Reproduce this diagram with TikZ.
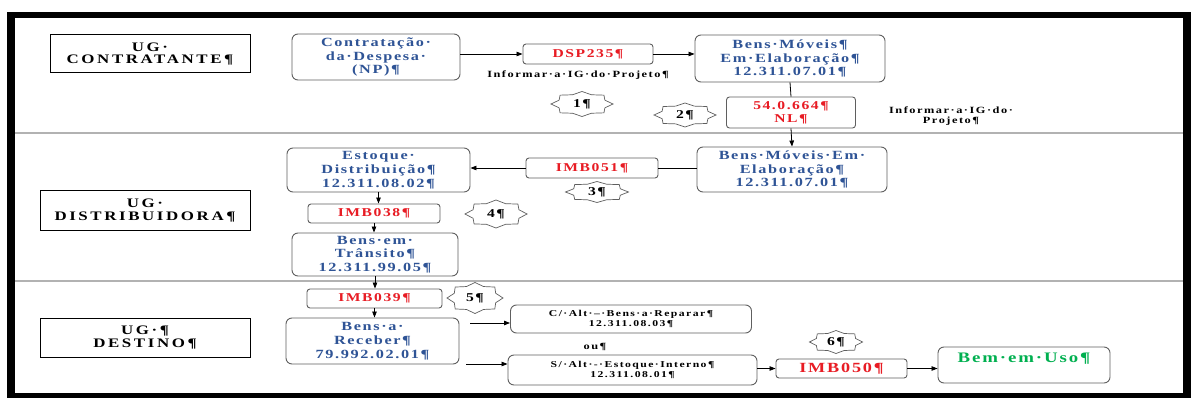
\documentclass[tikz,border=0pt]{standalone}
\usepackage{fontspec}
\setmainfont{Liberation Serif}[FakeStretch=1.3,LetterSpace=13]
\newfontfamily\widefont{Liberation Serif}[FakeStretch=1.3,LetterSpace=20]
\newfontfamily\notefont{Liberation Serif}[FakeStretch=1.3,LetterSpace=16]
\usetikzlibrary{arrows.meta,calc}

\definecolor{acctblue}{RGB}{47,84,150}
\definecolor{docred}{RGB}{232,28,36}
\definecolor{usegreen}{RGB}{0,176,80}
\definecolor{boxgray}{RGB}{95,95,95}
\definecolor{lanegray}{RGB}{178,178,178}

\tikzset{
  ugbox/.style={draw=black, line width=1pt, inner sep=0pt, align=center,
    font=\widefont\bfseries\fontsize{13}{12.5}\selectfont},
  acct/.style={draw=boxgray, line width=0.9pt, rounded corners=6pt, inner sep=0pt,
    align=center, text=acctblue, font=\bfseries\fontsize{12.5}{13.8}\selectfont},
  doc/.style={draw=boxgray, line width=0.9pt, rounded corners=3pt, inner sep=0pt,
    align=center, text=docred, font=\bfseries\fontsize{12}{13}\selectfont},
  small/.style={inner sep=0pt, align=center, font=\notefont\bfseries\fontsize{9.5}{10.5}\selectfont},
  sealtext/.style={inner sep=0pt, font=\bfseries\fontsize{12}{12}\selectfont},
  sealline/.style={draw=boxgray, line width=0.7pt},
  flow/.style={line width=0.8pt, -{Triangle[length=6pt,width=4.5pt]}},
  link/.style={line width=0.8pt},
  laneline/.style={draw=lanegray, line width=1.5pt}
}

% star outline round a named node: name, half width, half height
\newcommand{\sealframe}[3]{%
  \draw[sealline, shift={(#1.center)}] plot[samples at={0,22.5,...,337.5}]
    ({#2*cos(\x)*(1-0.2*mod(round(\x/22.5),2))},{#3*sin(\x)*(1-0.2*mod(round(\x/22.5),2))}) -- cycle;}

\begin{document}
\begin{tikzpicture}[x=1pt,y=-1pt]
\useasboundingbox (0,0) rectangle (1191,398);

%Frame
\fill[black] (7,12) rectangle (1191,398);
\fill[white] (15,18) rectangle (1183,393);

%Lanes
\draw[laneline] (15,133) -- (1183,133);
\draw[laneline] (15,281) -- (1183,281);

%Lane titles
\node[ugbox, minimum width=200pt, minimum height=38pt] (ugA) at (150,54) {UG·\\CONTRATANTE¶};
\node[ugbox, minimum width=210pt, minimum height=39pt] (ugB) at (145,210.5) {UG·\\DISTRIBUIDORA¶};
\node[ugbox, minimum width=210pt, minimum height=39pt] (ugC) at (145,337.5) {UG·¶\\DESTINO¶};

%UG contratante
\node[acct, minimum width=168pt, minimum height=46pt] (contr) at (376,57) {Contratação·\\da·Despesa·\\(NP)¶};
\node[doc, minimum width=130pt, minimum height=20pt] (dsp) at (588,54) {DSP235¶};
\node[small] (info1) at (578,75) {Informar·a·IG·do·Projeto¶};
\node[acct, minimum width=190pt, minimum height=47pt] (bensA) at (790,58.5) {Bens·Móveis¶\\Em·Elaboração¶\\12.311.07.01¶};
\node[doc, minimum width=129pt, minimum height=31pt] (nl) at (791,112.5) {54.0.664¶\\NL¶};
\node[small] (info2) at (951,116) {Informar·a·IG·do·\\Projeto¶};
\node[sealtext] (s1) at (582,104) {1¶};
\sealframe{s1}{31}{12.5}
\node[sealtext] (s2) at (685,115) {2¶};
\sealframe{s2}{31}{12}

%UG distribuidora
\node[acct, minimum width=190pt, minimum height=45pt] (bensB) at (792,169.5) {Bens·Móveis·Em·\\Elaboração¶\\12.311.07.01¶};
\node[doc, minimum width=132pt, minimum height=20pt] (imb051) at (592,168) {IMB051¶};
\node[acct, minimum width=183pt, minimum height=44pt] (estoque) at (378.5,170) {Estoque·\\Distribuição¶\\12.311.08.02¶};
\node[doc, minimum width=132pt, minimum height=19pt] (imb038) at (374,213.5) {IMB038¶};
\node[acct, minimum width=166pt, minimum height=43pt] (transito) at (375,254.5) {Bens·em·\\Trânsito¶\\12.311.99.05¶};
\node[sealtext] (s3) at (597,192) {3¶};
\sealframe{s3}{31.5}{10.5}
\node[sealtext] (s4) at (496,214) {4¶};
\sealframe{s4}{31}{14}

%UG destino
\node[doc, minimum width=135pt, minimum height=19pt] (imb039) at (374.5,298.5) {IMB039¶};
\node[acct, minimum width=173pt, minimum height=46pt] (receber) at (372.5,341) {Bens·a·\\Receber¶\\79.992.02.01¶};
\node[sealtext] (s5) at (475,298) {5¶};
\sealframe{s5}{28}{15.5}
\node[acct, text=black, minimum width=241pt, minimum height=28pt, font=\notefont\bfseries\fontsize{9}{10}\selectfont] (calt) at (631,319) {C/·Alt·–·Bens·a·Reparar¶\\12.311.08.03¶};
\node[small] (ou) at (595,347) {ou¶};
\node[acct, text=black, minimum width=249pt, minimum height=30pt, font=\notefont\bfseries\fontsize{9}{10}\selectfont] (salt) at (632.5,370) {S/·Alt·-·Estoque·Interno¶\\12.311.08.01¶};
\node[doc, minimum width=131pt, minimum height=19pt, font=\bfseries\fontsize{14}{15}\selectfont] (imb050) at (841.5,368.5) {IMB050¶};
\node[sealtext] (s6) at (836,342) {6¶};
\sealframe{s6}{26.5}{11.5}
\node[acct, text=usegreen, minimum width=172pt, minimum height=36pt, text depth=14pt, font=\bfseries\fontsize{14.5}{15}\selectfont] (uso) at (1024,365) {Bem·em·Uso¶};

\coordinate (r1) at (470,323);
\coordinate (r2) at (466,364);

%Connectors
\draw[flow] (contr.east |- dsp.west) -- (dsp.west);
\draw[flow] (dsp.east) -- (dsp.east -| bensA.west);
\draw[link] (bensA.south) -- (nl.north);
\draw[flow] (nl.south) -- (bensB.north);
\draw[link] (bensB.west |- imb051.east) -- (imb051.east);
\draw[flow] (imb051.west) -- (imb051.west -| estoque.east);
\draw[flow] (estoque.south) -- (estoque.south |- imb038.north);
\draw[flow] (imb038.south) -- (imb038.south |- transito.north);
\draw[flow] (transito.south) -- (transito.south |- imb039.north);
\draw[flow] (imb039.south) -- (imb039.south |- receber.north);
\draw[flow] (r1) -- (r1 -| calt.west);
\draw[flow] (r2) -- (r2 -| salt.west);
\draw[flow] (salt.east |- imb050.west) -- (imb050.west);
\draw[flow] (imb050.east) -- (imb050.east -| uso.west);

\end{tikzpicture}
\end{document}
